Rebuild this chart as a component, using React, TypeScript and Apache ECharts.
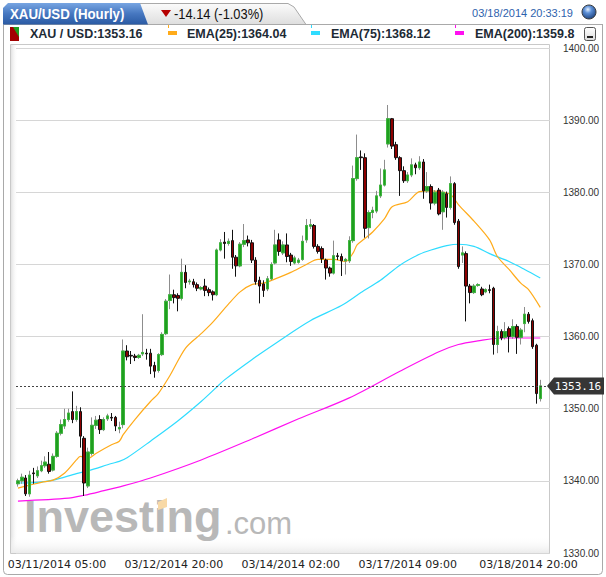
import React, { useEffect, useRef } from "react";
import * as echarts from "echarts";

// ---- Data (hourly XAU/USD candles) ----
const opens = [
  1339.6, 1340.0, 1340.4, 1338.2, 1341.1, 1340.7, 1341.4, 1342.1, 1342.3, 1341.5,
  1343.4, 1346.6, 1347.6, 1348.5, 1349.6, 1348.5, 1349.6, 1345.9, 1339.3, 1343.8,
  1347.7, 1348.5, 1347.1, 1348.6, 1348.8, 1348.8, 1347.2, 1347.8, 1358.0, 1357.4,
  1357.3, 1357.1, 1357.6, 1357.7, 1357.7, 1356.0, 1355.3, 1357.5, 1360.4, 1365.0,
  1365.8, 1365.7, 1365.3, 1368.9, 1367.6, 1367.6, 1367.2, 1366.6, 1367.0, 1366.5,
  1366.2, 1365.8, 1372.0, 1373.1, 1372.9, 1373.3, 1371.0, 1369.8, 1372.8, 1373.4,
  1373.0, 1370.6, 1367.8, 1367.3, 1366.6, 1368.0, 1370.2, 1373.4, 1371.6, 1372.7,
  1371.3, 1370.2, 1370.3, 1370.7, 1373.4, 1375.3, 1375.4, 1372.5, 1372.2, 1370.6,
  1369.5, 1368.8, 1371.2, 1371.1, 1370.5, 1370.5, 1373.3, 1381.9, 1384.9, 1384.8,
  1375.1, 1377.2, 1377.4, 1379.5, 1381.0, 1386.7, 1390.2, 1386.6, 1384.8, 1383.0,
  1381.6, 1382.4, 1383.8, 1383.4, 1384.2, 1380.2, 1380.8, 1378.5, 1380.3, 1377.3,
  1379.8, 1377.9, 1381.2, 1376.0, 1371.3, 1371.5, 1367.0, 1366.1, 1367.1, 1366.6,
  1366.2, 1366.5, 1366.7, 1358.9, 1360.7, 1359.9, 1361.1, 1360.0, 1361.4, 1359.9,
  1361.8, 1363.1, 1362.2, 1358.8, 1351.4,
];
const closes = [
  1340.0, 1340.5, 1338.2, 1340.8, 1341.0, 1341.4, 1342.1, 1342.6, 1341.3, 1343.4,
  1346.6, 1347.8, 1348.5, 1349.4, 1348.5, 1349.6, 1346.2, 1339.7, 1344.0, 1347.7,
  1348.4, 1347.1, 1348.5, 1349.0, 1348.7, 1347.6, 1347.4, 1358.0, 1357.2, 1357.3,
  1357.1, 1357.4, 1357.8, 1357.6, 1355.9, 1355.2, 1357.5, 1360.3, 1364.9, 1365.8,
  1365.4, 1365.3, 1368.9, 1367.5, 1367.7, 1367.2, 1366.7, 1366.8, 1366.4, 1366.1,
  1365.8, 1372.0, 1373.0, 1372.9, 1373.2, 1371.0, 1369.8, 1372.8, 1373.3, 1373.0,
  1370.6, 1367.6, 1367.0, 1366.4, 1368.0, 1370.0, 1372.7, 1371.8, 1372.7, 1371.1,
  1370.4, 1370.9, 1370.6, 1373.2, 1375.4, 1375.5, 1372.5, 1371.8, 1370.8, 1369.5,
  1368.8, 1371.2, 1371.1, 1370.5, 1370.7, 1373.3, 1381.9, 1384.8, 1384.8, 1375.0,
  1377.2, 1377.5, 1379.5, 1381.0, 1383.1, 1390.2, 1386.4, 1384.8, 1383.0, 1381.6,
  1382.4, 1383.8, 1383.4, 1384.2, 1380.2, 1380.8, 1378.5, 1380.0, 1377.0, 1380.0,
  1377.9, 1381.2, 1375.8, 1369.7, 1371.6, 1367.0, 1366.1, 1367.0, 1367.2, 1365.8,
  1366.5, 1366.4, 1358.9, 1360.7, 1359.8, 1360.7, 1360.0, 1361.4, 1359.9, 1360.9,
  1363.1, 1362.1, 1358.6, 1352.1, 1353.16,
];
const lows = [
  1339.2, 1339.6, 1337.9, 1337.8, 1339.6, 1340.4, 1341.2, 1341.8, 1341.0, 1341.3,
  1343.2, 1346.3, 1347.2, 1348.2, 1348.0, 1348.2, 1344.6, 1337.9, 1339.0, 1343.5,
  1347.2, 1346.5, 1346.9, 1348.3, 1348.3, 1346.9, 1346.6, 1347.3, 1356.7, 1356.2,
  1356.6, 1356.9, 1357.3, 1356.8, 1354.8, 1354.3, 1355.0, 1357.3, 1360.2, 1363.8,
  1364.6, 1363.5, 1365.0, 1366.7, 1367.2, 1366.8, 1366.3, 1366.4, 1365.6, 1365.6,
  1365.0, 1365.6, 1371.8, 1370.8, 1372.6, 1369.4, 1368.3, 1369.6, 1372.4, 1372.5,
  1370.2, 1367.2, 1364.6, 1365.5, 1366.3, 1367.8, 1370.0, 1371.2, 1371.3, 1370.3,
  1369.8, 1370.0, 1370.1, 1370.5, 1373.0, 1374.9, 1372.2, 1371.5, 1370.2, 1367.9,
  1368.3, 1368.6, 1370.6, 1368.4, 1368.6, 1370.2, 1373.0, 1381.6, 1383.1, 1373.7,
  1373.6, 1376.4, 1377.1, 1379.2, 1380.8, 1386.2, 1386.0, 1384.5, 1379.5, 1381.3,
  1381.3, 1382.1, 1382.5, 1383.1, 1379.1, 1379.9, 1377.6, 1378.2, 1376.8, 1374.8,
  1376.5, 1377.6, 1375.5, 1369.4, 1370.2, 1362.1, 1364.6, 1365.9, 1366.9, 1365.6,
  1366.0, 1366.0, 1357.5, 1357.7, 1359.5, 1359.6, 1357.8, 1359.7, 1357.6, 1358.9,
  1360.6, 1361.8, 1358.3, 1350.7, 1351.0,
];
const highs = [
  1340.3, 1341.0, 1340.8, 1341.4, 1341.8, 1342.0, 1342.8, 1343.4, 1344.0, 1343.8,
  1346.9, 1348.5, 1350.0, 1350.0, 1352.4, 1350.4, 1350.2, 1346.2, 1344.6, 1348.8,
  1349.0, 1349.1, 1348.8, 1349.3, 1349.4, 1349.0, 1348.2, 1359.6, 1358.8, 1358.0,
  1357.6, 1357.6, 1363.1, 1358.3, 1358.3, 1356.5, 1357.7, 1360.6, 1365.2, 1368.6,
  1366.5, 1366.0, 1370.8, 1369.9, 1368.0, 1368.0, 1367.5, 1367.0, 1368.0, 1366.8,
  1366.4, 1372.2, 1373.5, 1374.5, 1373.6, 1374.8, 1371.3, 1373.1, 1375.6, 1374.0,
  1373.4, 1371.0, 1368.3, 1367.8, 1368.4, 1370.3, 1374.8, 1374.3, 1373.2, 1374.3,
  1371.6, 1371.2, 1370.9, 1374.0, 1376.3, 1376.3, 1375.6, 1372.8, 1372.5, 1370.8,
  1369.7, 1373.3, 1371.6, 1371.5, 1370.9, 1373.9, 1383.7, 1388.0, 1385.8, 1385.4,
  1377.5, 1378.0, 1380.2, 1383.3, 1384.5, 1392.1, 1390.3, 1387.0, 1385.0, 1383.6,
  1382.8, 1384.7, 1384.1, 1385.0, 1384.6, 1382.8, 1381.1, 1380.3, 1380.6, 1380.3,
  1380.1, 1382.2, 1381.4, 1376.3, 1372.5, 1371.8, 1367.3, 1367.3, 1367.4, 1366.9,
  1366.7, 1367.2, 1366.9, 1361.5, 1361.0, 1362.0, 1361.4, 1362.4, 1361.7, 1361.2,
  1364.1, 1363.4, 1362.5, 1359.0, 1354.0,
];

// EMA readings: [candle index, value]
const ema25 = [
  [0, 1339.0], [3, 1339.4], [6, 1339.8], [9, 1340.1], [12, 1341.1], [15, 1342.9],
  [16, 1343.4], [18, 1343.1], [20, 1343.8], [24, 1345.0], [26, 1345.5], [27, 1346.4],
  [30, 1348.5], [34, 1351.0], [36, 1352.1], [39, 1354.6], [43, 1358.4], [47, 1360.4],
  [50, 1362.0], [54, 1364.5], [57, 1366.2], [60, 1367.2], [63, 1367.4], [66, 1368.0],
  [70, 1368.9], [74, 1370.0], [77, 1370.7], [81, 1370.7], [84, 1370.4], [86, 1371.6],
  [87, 1372.7], [89, 1373.6], [91, 1374.5], [94, 1376.3], [96, 1378.0], [100, 1378.7],
  [103, 1380.1], [106, 1380.2], [108, 1380.1], [111, 1379.7], [113, 1378.3],
  [117, 1376.0], [121, 1373.4], [123, 1371.1], [126, 1369.3], [129, 1367.4],
  [131, 1366.5], [134, 1364.04],
];
const ema75 = [
  [0, 1339.7], [5, 1339.8], [9, 1340.1], [15, 1341.0], [18, 1341.4], [24, 1342.4],
  [26, 1342.7], [28, 1343.2], [34, 1345.5], [41, 1348.3], [47, 1351.0], [51, 1353.0],
  [53, 1354.0], [60, 1356.8], [67, 1359.4], [75, 1362.2], [83, 1364.3], [88, 1366.1],
  [93, 1367.8], [98, 1369.9], [103, 1371.4], [106, 1372.0], [110, 1372.6],
  [113, 1372.8], [117, 1372.5], [121, 1371.5], [126, 1370.4], [130, 1369.3],
  [134, 1368.12],
];
const ema200 = [
  [0, 1337.2], [13, 1337.6], [17, 1338.0], [21, 1338.5], [27, 1339.3], [34, 1340.4],
  [47, 1342.9], [60, 1345.8], [72, 1348.6], [85, 1351.5], [98, 1355.2], [108, 1357.9],
  [113, 1358.9], [118, 1359.4], [124, 1359.8], [134, 1359.8],
];

const tickIndex = [10, 40, 70, 100, 131];
const tickLabels = [
  "03/11/2014 05:00",
  "03/12/2014 20:00",
  "03/14/2014 02:00",
  "03/17/2014 09:00",
  "03/18/2014 20:00",
];
const padBars = 2;
const yMin = 1330;
const yMax = 1400;
const yStep = 10;

const legendPrice = "1353.16";
const legendEma25 = "1364.04";
const legendEma75 = "1368.12";
const legendEma200 = "1359.8";
const changeText = "-14.14 (-1.03%)";
const stampText = "03/18/2014 20:33:19";

const C_ORANGE = "#ffab1a";
const C_CYAN = "#2fdcff";
const C_MAGENTA = "#ff10f0";
const SANS = '"Liberation Sans", Arial, sans-serif';

export default function App() {
  const ref = useRef<HTMLDivElement>(null);

  useEffect(() => {
    document.body.style.margin = "0";
    const chart = echarts.init(ref.current!, undefined, { renderer: "svg" });
    const n = opens.length;
    const categories = Array.from({ length: n + padBars }, (_, i) => String(i));
    const ohlc = opens.map((o, i) => [o, closes[i], lows[i], highs[i]]);
    const upBodies = opens.map((o, i) =>
      closes[i] > o ? [o, closes[i], o, closes[i]] : ["-", "-", "-", "-"]
    );
    const last = closes[n - 1];

    chart.setOption({
      animation: false,
      backgroundColor: "#ffffff",
      grid: { left: 16, right: 56, top: 48, bottom: 24 },
      xAxis: {
        type: "category",
        data: categories,
        boundaryGap: true,
        axisLine: { show: false },
        axisTick: { show: false },
        splitLine: { show: false },
        axisLabel: {
          interval: (i: number) => tickIndex.includes(i),
          formatter: (_v: string, i: number) => {
            const k = tickIndex.indexOf(i);
            return k >= 0 ? tickLabels[k] : "";
          },
          margin: 6,
          fontFamily: '"DejaVu Sans", Verdana, sans-serif',
          fontSize: 11,
          color: "#222",
        },
      },
      yAxis: {
        type: "value",
        position: "right",
        min: yMin,
        max: yMax,
        interval: yStep,
        axisLine: { show: false },
        axisTick: { show: false },
        splitLine: { show: true, lineStyle: { color: "#d6d6d6", width: 1 } },
        axisLabel: {
          margin: 13,
          fontFamily: SANS,
          fontSize: 10,
          color: "#333",
          formatter: (v: number) => v.toFixed(2),
        },
      },
      series: [
        {
          name: "XAU / USD",
          type: "candlestick",
          data: ohlc,
          barWidth: 3,
          itemStyle: {
            color: "#1f9f1f",
            color0: "#8c0000",
            borderColor: "#8d8d8d",
            borderColor0: "#111111",
            borderWidth: 1,
          },
          markLine: {
            silent: true,
            symbol: "none",
            label: { show: false },
            lineStyle: { type: [2, 2], color: "#444", width: 1 },
            data: [{ yAxis: last }],
          },
          z: 3,
        },
        {
          name: "bodies",
          type: "candlestick",
          data: upBodies,
          barWidth: 3,
          itemStyle: {
            color: "#1f9f1f",
            color0: "#1f9f1f",
            borderColor: "#3fb53f",
            borderColor0: "#3fb53f",
            borderWidth: 1,
          },
          z: 4,
        },
        {
          name: "EMA(200)",
          type: "line",
          data: ema200,
          showSymbol: false,
          smooth: 0.3,
          lineStyle: { color: C_MAGENTA, width: 1.2 },
          z: 2,
        },
        {
          name: "EMA(75)",
          type: "line",
          data: ema75,
          showSymbol: false,
          smooth: 0.3,
          lineStyle: { color: C_CYAN, width: 1.2 },
          z: 2,
        },
        {
          name: "EMA(25)",
          type: "line",
          data: ema25,
          showSymbol: false,
          smooth: 0.3,
          lineStyle: { color: C_ORANGE, width: 1.2 },
          z: 2,
        },
      ],
    });

    const py = chart.convertToPixel({ yAxisIndex: 0 }, last) as number;

    const bg: any[] = [
      {
        type: "rect", z: -10, silent: true,
        shape: { x: 10.5, y: 44.5, width: 539, height: 509 },
        style: { fill: "#ffffff", stroke: "#c9c9c9", lineWidth: 1 },
      },
      {
        type: "rect", z: -9, silent: true,
        shape: { x: 11, y: 45, width: 7, height: 508 },
        style: {
          fill: {
            type: "linear", x: 0, y: 0, x2: 1, y2: 0,
            colorStops: [
              { offset: 0, color: "#e2e2e2" },
              { offset: 1, color: "rgba(255,255,255,0)" },
            ],
          },
        },
      },
      {
        type: "rect", z: -9, silent: true,
        shape: { x: 11, y: 536, width: 538, height: 17 },
        style: {
          fill: {
            type: "linear", x: 0, y: 0, x2: 0, y2: 1,
            colorStops: [
              { offset: 0, color: "rgba(255,255,255,0)" },
              { offset: 1, color: "#ebebeb" },
            ],
          },
        },
      },
      // watermark
      {
        type: "text", z: -5, silent: true, x: 24, y: 539,
        style: {
          text: "Investing", font: `bold 45px ${SANS}`, fill: "#b8b8b8",
          textAlign: "left", textVerticalAlign: "bottom",
        },
      },
      {
        type: "text", z: -5, silent: true, x: 225, y: 539,
        style: {
          text: ".com", font: `31px ${SANS}`, fill: "#b8b8b8",
          textAlign: "left", textVerticalAlign: "bottom",
        },
      },
      {
        type: "polygon", z: -4, silent: true,
        shape: { points: [[158, 502], [167, 498], [167, 507], [158, 510]] },
        style: { fill: "#f8d9a6" },
      },
      // outer frame
      {
        type: "rect", z: 5, silent: true,
        shape: { x: 3.5, y: 24.5, width: 599, height: 550, r: [0, 0, 4, 4] },
        style: { fill: "none", stroke: "#a9a9a9", lineWidth: 1 },
      },
      // header: gray tab
      {
        type: "polygon", z: 6, silent: true,
        shape: { points: [[138, 3.5], [288, 3.5], [294, 7], [306, 24.5], [146, 24.5]] },
        style: {
          fill: {
            type: "linear", x: 0, y: 0, x2: 0, y2: 1,
            colorStops: [
              { offset: 0, color: "#fbfbfb" },
              { offset: 1, color: "#dedede" },
            ],
          },
          stroke: "#a9a9a9", lineWidth: 1,
        },
      },
      {
        type: "line", z: 6, silent: true,
        shape: { x1: 306, y1: 24.5, x2: 603, y2: 24.5 },
        style: { stroke: "#a9a9a9", lineWidth: 1 },
      },
      // header: blue tab
      {
        type: "polygon", z: 7, silent: true,
        shape: { points: [[3, 24.5], [3, 8], [8, 3], [140, 3], [148, 24.5]] },
        style: {
          fill: {
            type: "linear", x: 0, y: 0, x2: 0, y2: 1,
            colorStops: [
              { offset: 0, color: "#77a5e2" },
              { offset: 0.5, color: "#4677c0" },
              { offset: 1, color: "#2a5aa3" },
            ],
          },
        },
      },
      {
        type: "text", z: 8, silent: true, x: 10, y: 14, scaleX: 0.95,
        style: {
          text: "XAU/USD (Hourly)", font: `bold 14px ${SANS}`, fill: "#ffffff",
          textAlign: "left", textVerticalAlign: "middle",
        },
      },
      {
        type: "polygon", z: 8, silent: true,
        shape: { points: [[161, 10], [171, 10], [166, 17]] },
        style: { fill: "#b50000" },
      },
      {
        type: "text", z: 8, silent: true, x: 174, y: 14, scaleX: 0.92,
        style: {
          text: changeText, font: `14px ${SANS}`, fill: "#111111",
          textAlign: "left", textVerticalAlign: "middle",
        },
      },
      {
        type: "text", z: 8, silent: true, x: 573, y: 13,
        style: {
          text: stampText, font: `11px ${SANS}`, fill: "#2e62ad",
          textAlign: "right", textVerticalAlign: "middle",
        },
      },
      {
        type: "circle", z: 8, silent: true,
        shape: { cx: 589, cy: 12, r: 7 },
        style: {
          fill: {
            type: "radial", x: 0.42, y: 0.32, r: 0.75,
            colorStops: [
              { offset: 0, color: "#e4f0ff" },
              { offset: 0.35, color: "#5c8fd6" },
              { offset: 1, color: "#173a74" },
            ],
          },
          stroke: "#3a3a3a", lineWidth: 1,
        },
      },
      // legend row
      {
        type: "rect", z: 8, silent: true,
        shape: { x: 10, y: 27, width: 9, height: 14 },
        style: { fill: "#a30000" },
      },
      {
        type: "polygon", z: 9, silent: true,
        shape: { points: [[13, 27], [19, 27], [19, 37]] },
        style: { fill: "#1f9f1f" },
      },
      {
        type: "text", z: 8, silent: true, x: 30, y: 34,
        style: {
          text: "XAU / USD:" + legendPrice, font: `bold 12.5px ${SANS}`, fill: "#1d2a35",
          textAlign: "left", textVerticalAlign: "middle",
        },
      },
      { type: "rect", z: 8, silent: true, shape: { x: 168, y: 31, width: 9, height: 4 }, style: { fill: C_ORANGE } },
      { type: "rect", z: 8, silent: true, shape: { x: 168, y: 25, width: 1, height: 3 }, style: { fill: C_ORANGE } },
      {
        type: "text", z: 8, silent: true, x: 187, y: 34,
        style: {
          text: "EMA(25):" + legendEma25, font: `bold 12.5px ${SANS}`, fill: "#1d2a35",
          textAlign: "left", textVerticalAlign: "middle",
        },
      },
      { type: "rect", z: 8, silent: true, shape: { x: 311, y: 31, width: 9, height: 4 }, style: { fill: C_CYAN } },
      { type: "rect", z: 8, silent: true, shape: { x: 311, y: 25, width: 1, height: 3 }, style: { fill: C_CYAN } },
      {
        type: "text", z: 8, silent: true, x: 331, y: 34,
        style: {
          text: "EMA(75):" + legendEma75, font: `bold 12.5px ${SANS}`, fill: "#1d2a35",
          textAlign: "left", textVerticalAlign: "middle",
        },
      },
      { type: "rect", z: 8, silent: true, shape: { x: 455, y: 31, width: 9, height: 4 }, style: { fill: C_MAGENTA } },
      { type: "rect", z: 8, silent: true, shape: { x: 455, y: 25, width: 1, height: 3 }, style: { fill: C_MAGENTA } },
      {
        type: "text", z: 8, silent: true, x: 475, y: 34,
        style: {
          text: "EMA(200):" + legendEma200, font: `bold 12.5px ${SANS}`, fill: "#1d2a35",
          textAlign: "left", textVerticalAlign: "middle",
        },
      },
      {
        type: "rect", z: 9, silent: true,
        shape: { x: 584.5, y: 27.5, width: 11, height: 13, r: 2 },
        style: {
          fill: {
            type: "linear", x: 0, y: 0, x2: 0, y2: 1,
            colorStops: [
              { offset: 0, color: "#ffffff" },
              { offset: 1, color: "#dcdcdc" },
            ],
          },
          stroke: "#555", lineWidth: 1,
        },
      },
      { type: "rect", z: 10, silent: true, shape: { x: 587, y: 36, width: 6, height: 2 }, style: { fill: "#222" } },
      // price tag
      {
        type: "polygon", z: 20, silent: true,
        shape: {
          points: [[547, py], [554, py - 8.5], [604, py - 8.5], [604, py + 8.5], [554, py + 8.5]],
        },
        style: { fill: "#363636" },
      },
      {
        type: "text", z: 21, silent: true, x: 578, y: py + 0.5,
        style: {
          text: last.toFixed(2), font: '11px "DejaVu Sans Mono", monospace', fill: "#ffffff",
          textAlign: "center", textVerticalAlign: "middle",
        },
      },
    ];

    chart.setOption({ graphic: { elements: bg } });

    return () => chart.dispose();
  }, []);

  return (
    <div
      ref={ref}
      style={{ position: "fixed", left: 0, top: 0, width: 606, height: 577, background: "#fff" }}
    />
  );
}
